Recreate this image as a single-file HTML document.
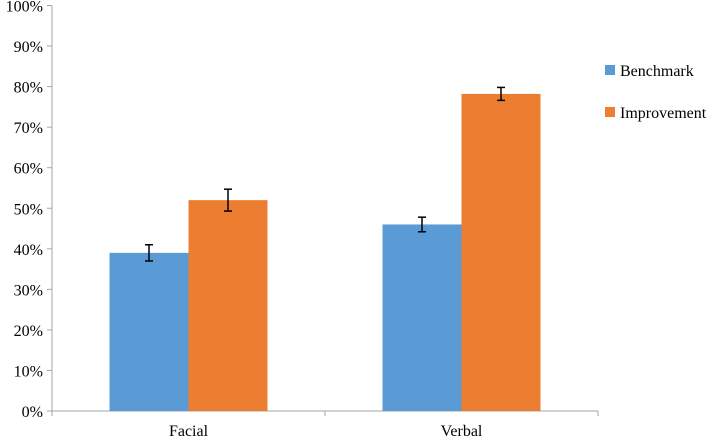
<!DOCTYPE html>
<html><head><meta charset="utf-8"><style>
body{margin:0;background:#fff;}
svg{display:block;}
text{font-family:"Liberation Serif","DejaVu Serif",serif;}
</style></head><body>
<svg id="chart" width="709" height="437"></svg>
<script>
const categories=["Facial","Verbal"];
const seriesNames=["Benchmark","Improvement"];
const benchmark=[39,46];
const improvement=[52,78.2];
const benchmarkErr=[2.0,1.8];
const improvementErr=[2.7,1.6];
const yTicks=[0,10,20,30,40,50,60,70,80,90,100];
const colors=["#5b9bd5","#ed7d31"];
const NS="http://www.w3.org/2000/svg";
const FONT="Liberation Serif, DejaVu Serif, serif";
const svg=document.getElementById('chart');
const x0=52,x1=598,y0=411,yTop=5.5;
const y=v=>y0-(v/100)*(y0-yTop);
const catW=(x1-x0)/categories.length;
const barW=79;
function mk(t,a,p){const e=document.createElementNS(NS,t);for(const k in a)e.setAttribute(k,a[k]);if(t==='text'){e.setAttribute('font-family',FONT);e.style.fontFamily="'Liberation Serif','DejaVu Serif',serif";}(p||svg).appendChild(e);return e;}
let ax=mk('line',{x1:x0,y1:yTop,x2:x0,y2:y0,stroke:'#a6a6a6','stroke-width':1});


let xa=mk('line',{x1:x0,y1:y0,x2:x1,y2:y0,stroke:'#a6a6a6','stroke-width':1});


yTicks.forEach(t=>{
 mk('line',{x1:x0-5,y1:y(t),x2:x0,y2:y(t),stroke:'#a6a6a6'});
 const tx=mk('text',{x:x0-9,y:y(t)+6,'text-anchor':'end','font-size':16,fill:'#000'});
 tx.textContent=t+'%';
 
 
});
for(let i=0;i<=categories.length;i++){mk('line',{x1:x0+i*catW,y1:y0,x2:x0+i*catW,y2:y0+5,stroke:'#a6a6a6'});}
const series=[benchmark,improvement],errs=[benchmarkErr,improvementErr];
categories.forEach((c,i)=>{
 const cx=x0+catW*(i+0.5);
 series.forEach((s,j)=>{
  const bx=cx-barW+j*barW;
  const r=mk('rect',{x:bx,y:y(s[i]),width:barW,height:y0-y(s[i]),fill:colors[j]});
  
  
  const ex=bx+barW/2,e=errs[j][i];
  const g=mk('g',{stroke:'#000','stroke-width':1.5});
  
  
  mk('line',{x1:ex,y1:y(s[i]+e),x2:ex,y2:y(s[i]-e)},g);
  mk('line',{x1:ex-4,y1:y(s[i]+e),x2:ex+4,y2:y(s[i]+e)},g);
  mk('line',{x1:ex-4,y1:y(s[i]-e),x2:ex+4,y2:y(s[i]-e)},g);
 });
 const t=mk('text',{x:cx,y:y0+25,'text-anchor':'middle','font-size':16});
 t.textContent=c;
 
 
});
seriesNames.forEach((n,j)=>{
 const ly=70+j*42;
 const r=mk('rect',{x:605,y:ly-5,width:10,height:10,fill:colors[j]});
 
 
 const t=mk('text',{x:620,y:ly+6,'font-size':16});
 t.textContent=n;
 
 
});
</script>
</body></html>
